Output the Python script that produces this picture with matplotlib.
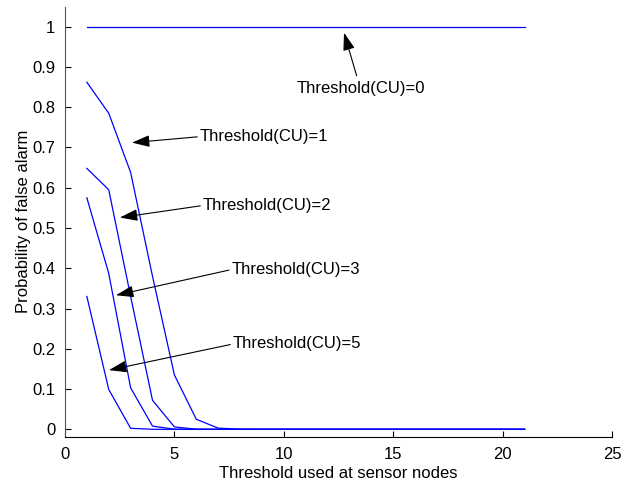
import matplotlib
matplotlib.use("Agg")
import matplotlib.pyplot as plt

plt.rcParams['font.family'] = ['Liberation Sans', 'DejaVu Sans']

# threshold at sensor nodes
x = list(range(1, 22))

# probability of false alarm, one list per CU threshold
pfa_cu0 = [1.0] * 21
pfa_cu1 = [0.862, 0.785, 0.638, 0.38, 0.135, 0.025, 0.003, 0.0003] + [0.0] * 13
pfa_cu2 = [0.648, 0.595, 0.33, 0.072, 0.006, 0.0004] + [0.0] * 15
pfa_cu3 = [0.575, 0.387, 0.103, 0.008, 0.0004] + [0.0] * 16
pfa_cu5 = [0.330, 0.099, 0.0025, 0.0001] + [0.0] * 17

# annotation: label, text position, arrow tip
notes = [
    ("Threshold(CU)=0", (13.5, 0.846), (12.75, 0.985)),
    ("Threshold(CU)=1", (6.17, 0.727), (3.06, 0.712)),
    ("Threshold(CU)=2", (6.31, 0.556), (2.51, 0.526)),
    ("Threshold(CU)=3", (7.62, 0.397), (2.33, 0.333)),
    ("Threshold(CU)=5", (7.68, 0.212), (2.01, 0.147)),
]

fig = plt.figure(figsize=(6.37, 4.82), dpi=100)
ax = fig.add_axes([0.102, 0.0934, 0.859, 0.893])

for y in [pfa_cu0, pfa_cu1, pfa_cu2, pfa_cu3, pfa_cu5]:
    ax.plot(x, y, color=(0, 0, 1), linewidth=0.9)

fs = 12
arrow = "-|>,head_length=0.9,head_width=0.3"
for i, (label, txt, tip) in enumerate(notes):
    if i == 0:
        # text below the arrow, arrow starts at top of text
        ax.annotate(label, xy=tip, xytext=txt, ha="center", va="center",
                    fontsize=fs,
                    arrowprops=dict(arrowstyle=arrow, color="black", lw=0.8,
                                    shrinkA=2, shrinkB=0))
    else:
        ax.annotate(label, xy=tip, xytext=txt, ha="left", va="center",
                    fontsize=fs,
                    arrowprops=dict(arrowstyle=arrow, color="black", lw=0.8,
                                    shrinkA=0, shrinkB=0, relpos=(0, 0.5)))

ax.set_xlim(0, 25)
ax.set_ylim(-0.019, 1.05)
ax.set_xticks([0, 5, 10, 15, 20, 25])
ax.set_yticks([i / 10 for i in range(11)])
ax.set_yticklabels(["0", "0.1", "0.2", "0.3", "0.4", "0.5", "0.6", "0.7", "0.8", "0.9", "1"])
ax.spines["top"].set_visible(False)
ax.spines["right"].set_visible(False)
ax.spines["left"].set_color("#555555")
ax.tick_params(direction="in", length=4, labelsize=fs, width=0.8)
ax.tick_params(axis="x", pad=7)
ax.tick_params(axis="y", pad=7)
ax.set_xlabel("Threshold used at sensor nodes", fontsize=fs, labelpad=3)
ax.set_ylabel("Probability of false alarm", fontsize=fs, labelpad=1)

fig.savefig("out.png", dpi=100)
plt.close(fig)
